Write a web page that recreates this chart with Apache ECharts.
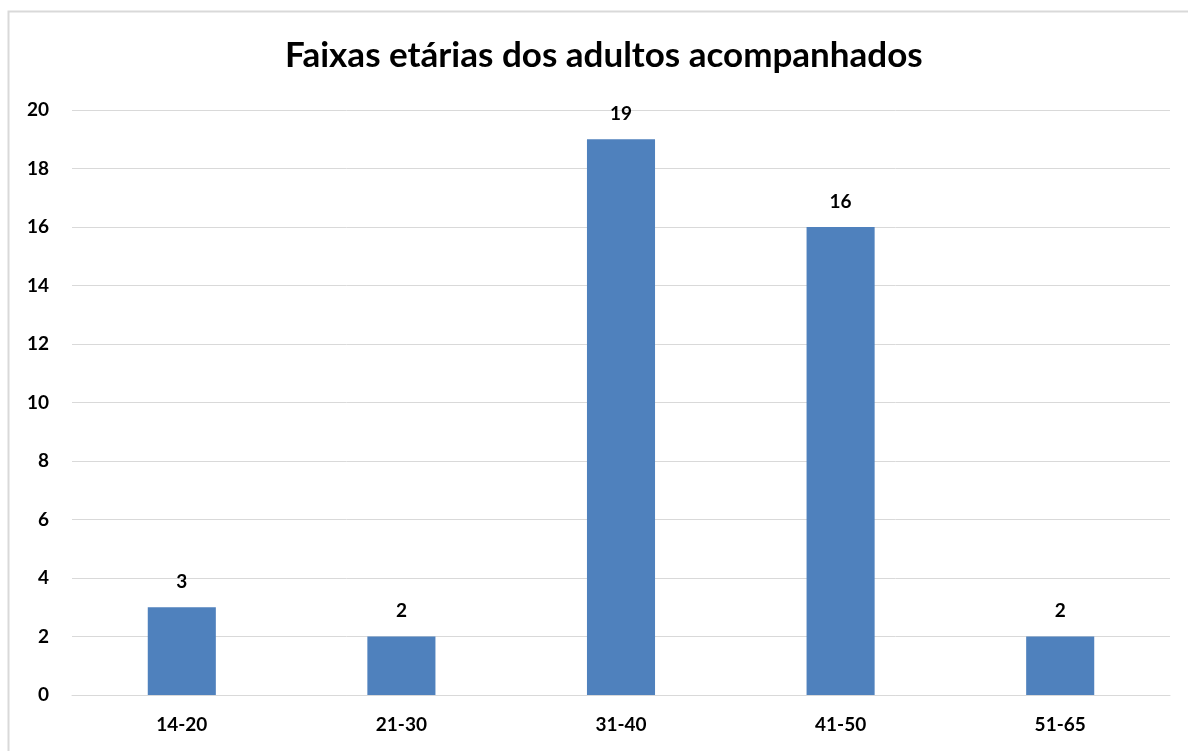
<!DOCTYPE html>
<html><head><meta charset="utf-8">
<script src="https://cdn.jsdelivr.net/npm/echarts@6/dist/echarts.min.js"></script>
<style>html,body{margin:0;padding:0;background:#fff}#c{width:1188px;height:751px}</style>
</head><body><div id="c"></div>
<script>
const titleText = 'Faixas etárias dos adultos acompanhados';
const categories = ['14-20', '21-30', '31-40', '41-50', '51-65'];
const values = [3, 2, 19, 16, 2];
const yMin = 0, yMax = 20, yInterval = 2;

const chart = echarts.init(document.getElementById('c'));
const font = 'Lato, "Open Sans", sans-serif';
chart.setOption({
  animation: false,
  backgroundColor: '#fff',
  graphic: [{
    type: 'rect', shape: {x: 8.5, y: 11.5, width: 1300, height: 900},
    style: {fill: 'none', stroke: '#d9d9d9', lineWidth: 2}, silent: true
  }],
  title: {
    text: titleText, left: 280, top: 33,
    textStyle: {fontFamily: font, fontWeight: 'bold', fontSize: 35, color: '#000'}
  },
  grid: {left: 72, right: 18, top: 110, bottom: 56, containLabel: false},
  xAxis: {
    type: 'category', data: categories,
    axisLine: {lineStyle: {color: '#d9d9d9', width: 1}},
    axisTick: {show: false},
    axisLabel: {fontFamily: font, fontWeight: 'bold', fontSize: 19, color: '#000', margin: 20}
  },
  yAxis: {
    type: 'value', min: yMin, max: yMax, interval: yInterval,
    axisLine: {show: false}, axisTick: {show: false},
    splitLine: {lineStyle: {color: '#d9d9d9', width: 1}},
    axisLabel: {fontFamily: font, fontWeight: 'bold', fontSize: 19, color: '#000', margin: 23}
  },
  series: [{
    type: 'bar', data: values, barWidth: '31%',
    itemStyle: {color: '#4f81bd'},
    label: {show: true, position: 'top', distance: 16, fontFamily: font, fontWeight: 'bold', fontSize: 19, color: '#000'}
  }]
});
</script></body></html>
